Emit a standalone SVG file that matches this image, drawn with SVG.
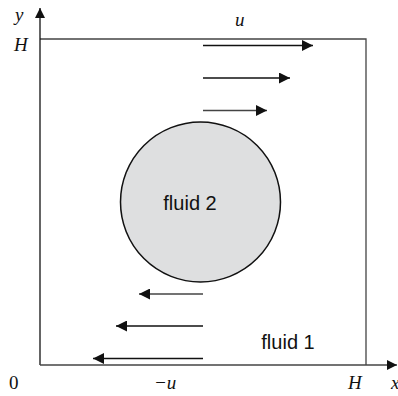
<svg xmlns="http://www.w3.org/2000/svg" width="398" height="396" viewBox="0 0 398 396">
<style>
.ln{stroke:#111;stroke-width:1.3;fill:none}
.math{font-family:"Liberation Serif",serif;font-style:italic;font-size:19px;fill:#111}
.num{font-family:"Liberation Serif",serif;font-size:19px;fill:#111}
.lab{font-family:"Liberation Sans",Arial,sans-serif;font-size:20px;fill:#111}
</style>
<defs>
<marker id="ah" viewBox="0 0 11 11" refX="11" refY="5.5" markerWidth="11" markerHeight="11" markerUnits="userSpaceOnUse" orient="auto">
<path d="M0,0 L11,5.5 L0,11 Z" fill="#111"/>
</marker>
<marker id="axh" viewBox="0 0 10 10" refX="10" refY="5" markerWidth="10" markerHeight="10" markerUnits="userSpaceOnUse" orient="auto">
<path d="M0,0 L10,5 L0,10 Z" fill="#111"/>
</marker>
</defs>
<rect width="398" height="396" fill="#fff"/>
<g id="box">
<polyline class="ln" points="40,39 366,39 366,365" style="stroke:#444"/>
</g>
<g id="axes">
<line class="ln" x1="40" y1="365" x2="40" y2="8" marker-end="url(#axh)"/>
<line class="ln" x1="40" y1="365" x2="397" y2="365" marker-end="url(#axh)" style="stroke:#444"/>
</g>
<g id="fluid2">
<circle cx="200.5" cy="202" r="80" fill="#dedfe0" stroke="#111" stroke-width="1.5"/>
<text class="lab" x="190" y="210" text-anchor="middle">fluid 2</text>
</g>
<g id="fluid1">
<text class="lab" x="288" y="349" text-anchor="middle">fluid 1</text>
</g>
<g id="connectors">
<line class="ln" x1="203" y1="45.5" x2="313" y2="45.5" marker-end="url(#ah)"/>
<line class="ln" x1="203" y1="78" x2="290" y2="78" marker-end="url(#ah)"/>
<line class="ln" x1="203" y1="110.5" x2="267" y2="110.5" marker-end="url(#ah)" style="stroke:#444"/>
<line class="ln" x1="203" y1="294" x2="139" y2="294" marker-end="url(#ah)" style="stroke:#444"/>
<line class="ln" x1="203" y1="326" x2="116" y2="326" marker-end="url(#ah)"/>
<line class="ln" x1="203" y1="358.5" x2="93" y2="358.5" marker-end="url(#ah)"/>
</g>
<g id="labels">
<text class="math" x="15" y="21">y</text>
<text class="math" x="14" y="51">H</text>
<text class="math" x="235" y="26">u</text>
<text class="num" x="9" y="389">0</text>
<text class="math" x="154" y="389">−u</text>
<text class="math" x="348" y="389">H</text>
<text class="math" x="391" y="389">x</text>
</g>
</svg>
